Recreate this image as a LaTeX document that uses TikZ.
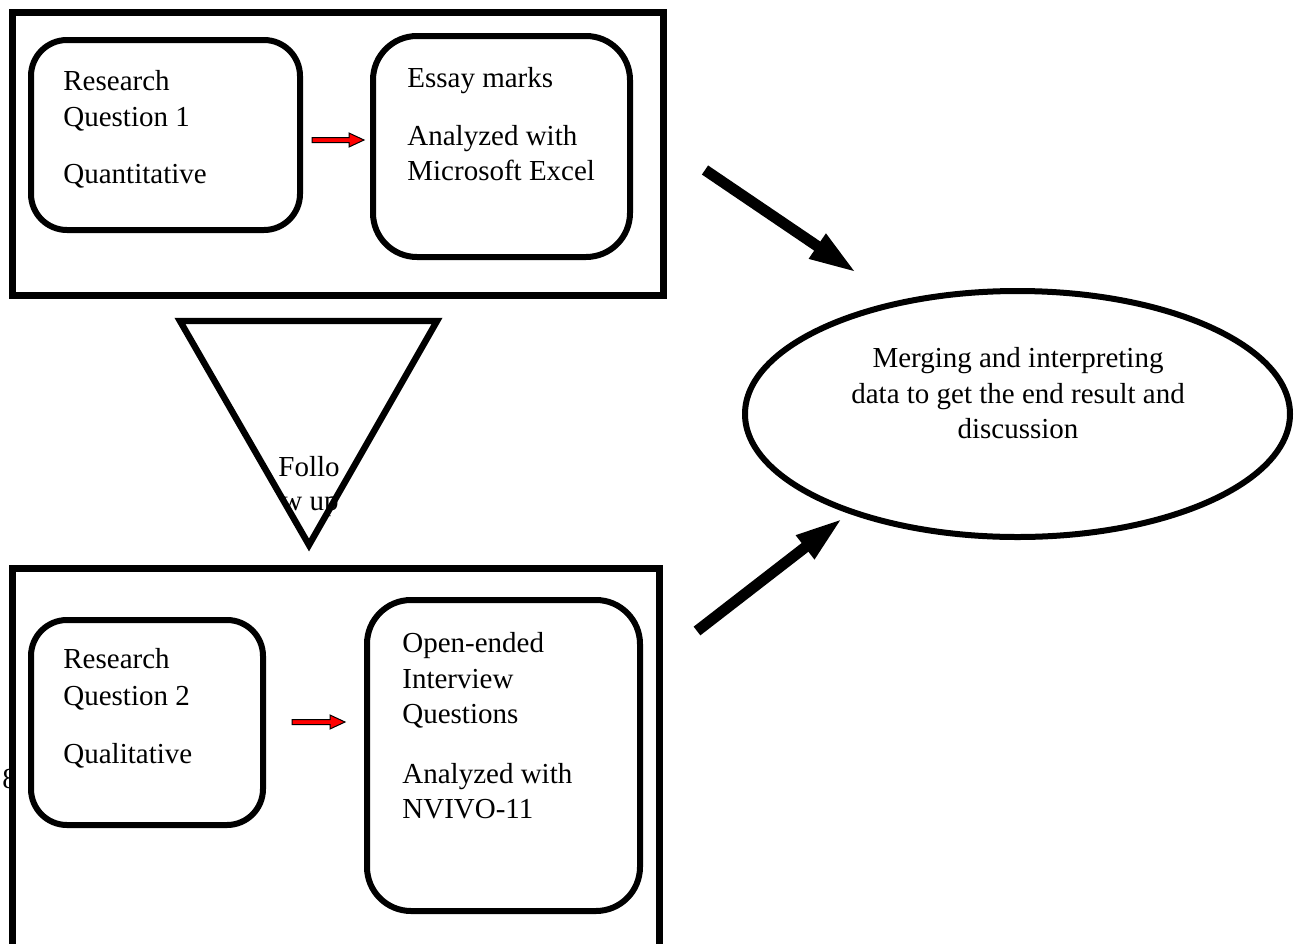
\documentclass[tikz,border=0pt]{standalone}
\usepackage{fontspec}
\setmainfont{Liberation Serif}
\usetikzlibrary{arrows.meta,shapes.geometric,calc}

\tikzset{
  outerbox/.style={draw=black, line width=3.5pt, rectangle, inner sep=0pt},
  stepbox/.style={draw=black, line width=3pt, rectangle, rounded corners=18pt, inner sep=0pt},
  label/.style={font=\fontsize{14.5}{17}\selectfont, inner sep=0pt, anchor=base west},
  clabel/.style={font=\fontsize{14.5}{17}\selectfont, inner sep=0pt, anchor=base},
  bigarrow/.style={line width=5.5pt, -{Triangle[length=24pt,width=13.5pt]}},
  redarrow/.style={draw=black, fill=red, line width=0.5pt, line join=miter}
}

\begin{document}
\begin{tikzpicture}[x=0.5pt,y=-0.5pt]
  \useasboundingbox (0,0) rectangle (1298,944);
  \clip (0,0) rectangle (1298,944);

  % quantitative strand
  \node[outerbox, minimum width=325.5pt, minimum height=141.5pt] (top) at (337.5,153.5) {};
  \node[stepbox, minimum width=134.5pt, minimum height=95pt] (rq1) at (165.5,135) {};
  \node[stepbox, rounded corners=22pt, minimum width=128.5pt, minimum height=110.5pt] (excel) at (501.5,146.5) {};
  \node[label] (rq1a) at (63,90) {Research};
  \node[label] (rq1b) at (63,126) {Question 1};
  \node[label] (rq1c) at (63,183) {Quantitative};
  \node[label] (exa) at (407,87) {Essay marks};
  \node[label] (exb) at (407,145) {Analyzed with};
  \node[label] (exc) at (407,180) {Microsoft Excel};

  % qualitative strand
  \node[label] (stray) at (2,788) {8};
  \node[outerbox, minimum width=323.5pt, minimum height=216pt] (bottom) at (335.5,784) {};
  \node[stepbox, minimum width=116pt, minimum height=102.5pt] (rq2) at (147,722.5) {};
  \node[stepbox, rounded corners=22pt, minimum width=136.5pt, minimum height=155.5pt] (nvivo) at (503.5,755.5) {};
  \node[label] (rq2a) at (63,668) {Research};
  \node[label] (rq2b) at (63,705) {Question 2};
  \node[label] (rq2c) at (63,763) {Qualitative};
  \node[label] (nva) at (402,652) {Open-ended};
  \node[label] (nvb) at (402,688) {Interview};
  \node[label] (nvc) at (402,723) {Questions};
  \node[label] (nvd) at (402,783) {Analyzed with};
  \node[label] (nve) at (402,818) {NVIVO-11};

  % follow-up triangle
  \node[label] (fua) at (278,476) {Follo};
  \node[label] (fub) at (281,510) {w up};
  \draw[line width=3.2pt, line join=miter] (180,321) -- (437,321) -- (309,545) -- cycle;

  % merging ellipse
  \node[ellipse, draw=black, line width=3pt, minimum width=272.5pt, minimum height=123pt, inner sep=0pt] (merge) at (1017.5,414) {};
  \node[clabel] (mga) at (1018,367) {Merging and interpreting};
  \node[clabel] (mgb) at (1018,403) {data to get the end result and};
  \node[clabel] (mgc) at (1018,438) {discussion};

  % red block arrows between steps
  \coordinate (r1s) at (312,140);
  \coordinate (r1e) at (364,140);
  \coordinate (r2s) at (292,722);
  \coordinate (r2e) at (345,722);
  \foreach \s/\e in {r1s/r1e, r2s/r2e}{
    \draw[redarrow] ($(\s)+(0,-2.5)$) -- ($(\e)+(-15,-2.5)$) -- ($(\e)+(-15,-7)$)
      -- (\e) -- ($(\e)+(-15,7)$) -- ($(\e)+(-15,2.5)$) -- ($(\s)+(0,2.5)$) -- cycle;
  }

  % black arrows into the ellipse
  \coordinate (b1s) at (705,170);
  \coordinate (b1e) at (857,273);
  \coordinate (b2s) at (697,631);
  \coordinate (b2e) at (843,518);
  \draw[bigarrow] (b1s) -- (b1e);
  \draw[bigarrow] (b2s) -- (b2e);
\end{tikzpicture}
\end{document}
